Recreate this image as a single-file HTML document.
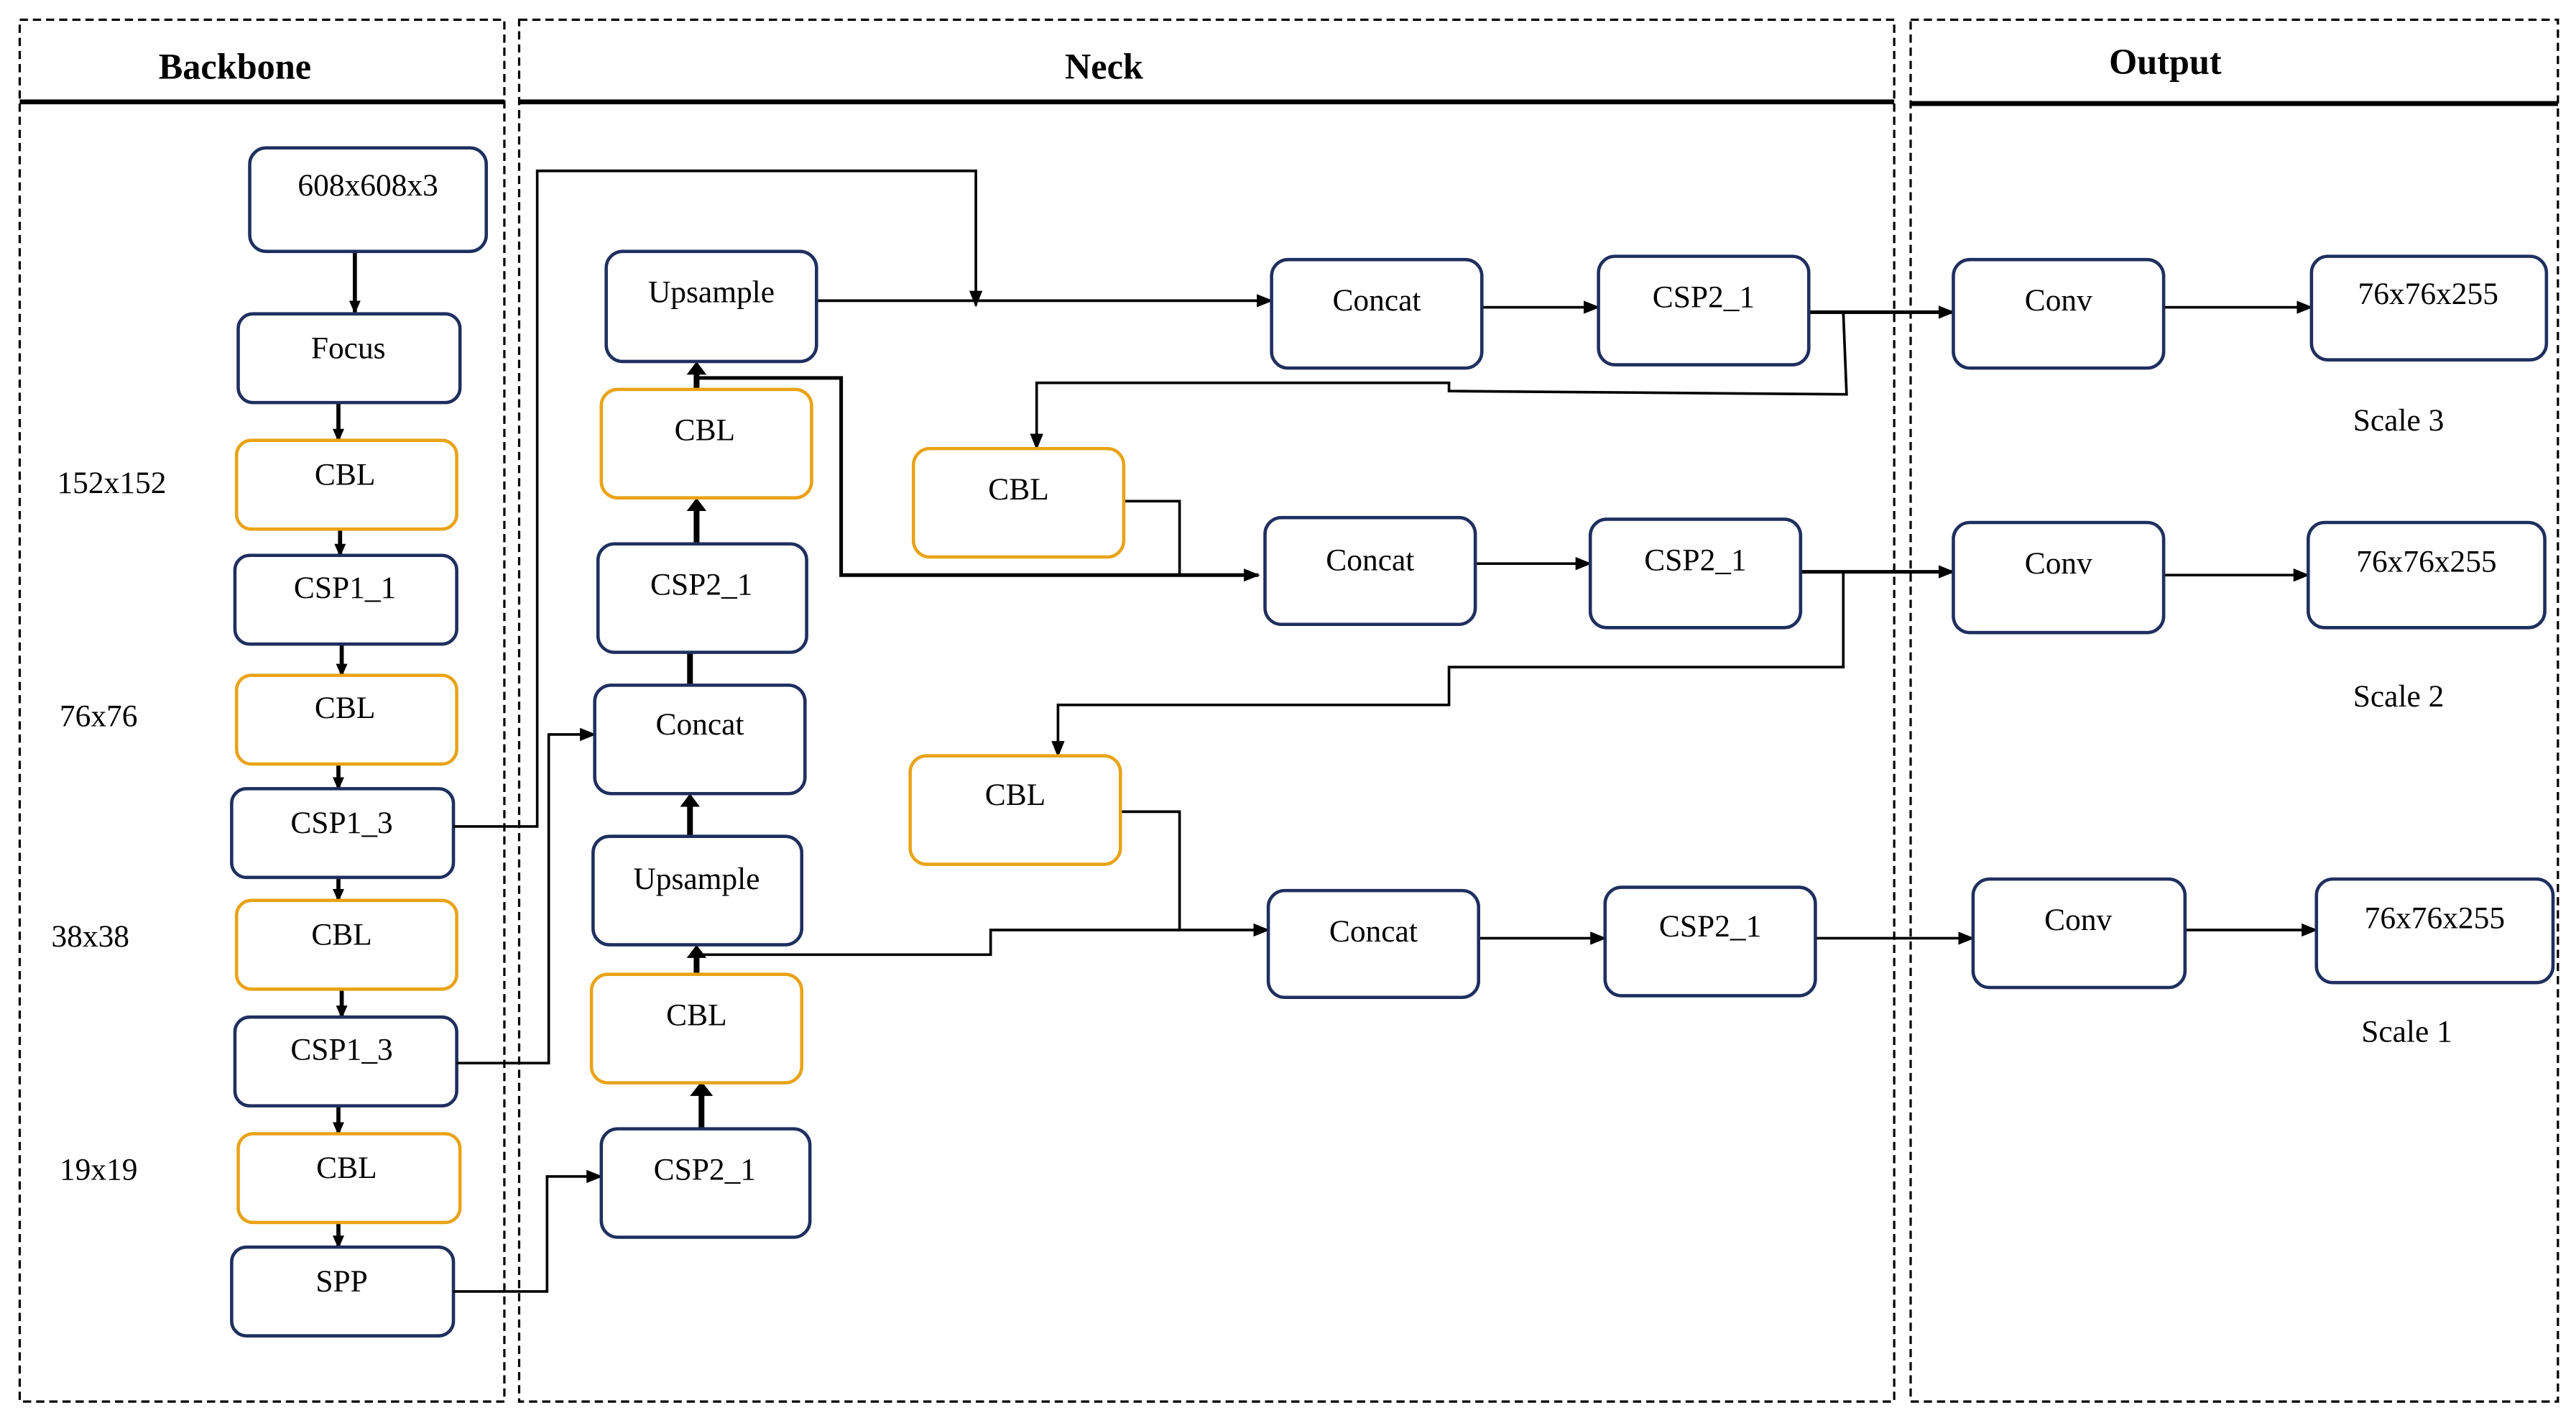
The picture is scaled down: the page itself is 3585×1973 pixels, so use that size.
<!DOCTYPE html>
<html><head><meta charset="utf-8"><style>
html,body{margin:0;padding:0;background:#fff;}
svg{display:block;}
text{font-family:"Liberation Serif",serif;font-size:19px;fill:#000;text-anchor:middle;}
.n{fill:#fff;stroke:#1f2f5e;stroke-width:2;}
.o{fill:#fff;stroke:#e8a317;stroke-width:2;}
.l{fill:none;stroke:#000;stroke-width:1.6;}
.t{fill:none;stroke:#000;stroke-width:3.5;}
.d{fill:none;stroke:#000;stroke-width:1.4;stroke-dasharray:5 3;}
</style></head><body>
<svg width="3585" height="1973" viewBox="0 0 1568 863" preserveAspectRatio="none" xmlns="http://www.w3.org/2000/svg">
<defs>
<marker id="a" markerWidth="10" markerHeight="10" refX="9" refY="5" orient="auto" markerUnits="userSpaceOnUse"><path d="M0,1 L10,5 L0,9 z" fill="#000"/></marker>
<marker id="s" markerWidth="8" markerHeight="8" refX="7" refY="4" orient="auto" markerUnits="userSpaceOnUse"><path d="M0,0.5 L8,4 L0,7.5 z" fill="#000"/></marker>
</defs>
<rect class="d" x="12" y="12" width="295" height="841"/>
<rect class="d" x="316" y="12" width="837" height="841"/>
<rect class="d" x="1163" y="12" width="394" height="841"/>
<line x1="12" y1="62" x2="307" y2="62" stroke="#000" stroke-width="3"/>
<line x1="316" y1="62" x2="1153" y2="62" stroke="#000" stroke-width="3"/>
<line x1="1163" y1="63" x2="1557" y2="63" stroke="#000" stroke-width="3"/>
<text x="143" y="48" style="font-weight:bold;font-size:22px">Backbone</text>
<text x="672" y="48" style="font-weight:bold;font-size:22px">Neck</text>
<text x="1318" y="45" style="font-weight:bold;font-size:22px">Output</text>

<g class="t" style="stroke-width:2.5">
<line x1="216" y1="153" x2="216" y2="190" marker-end="url(#s)"/>
<line x1="206" y1="245" x2="206" y2="268" marker-end="url(#s)"/>
<line x1="207" y1="322" x2="207" y2="338" marker-end="url(#s)"/>
<line x1="208" y1="392" x2="208" y2="411" marker-end="url(#s)"/>
<line x1="206" y1="465" x2="206" y2="480" marker-end="url(#s)"/>
<line x1="206" y1="534" x2="206" y2="548" marker-end="url(#s)"/>
<line x1="208" y1="602" x2="208" y2="619" marker-end="url(#s)"/>
<line x1="206" y1="673" x2="206" y2="690" marker-end="url(#s)"/>
<line x1="206" y1="744" x2="206" y2="759" marker-end="url(#s)"/>
</g>
<rect class="n" x="152" y="90" width="144" height="63" rx="10"/><text x="224" y="119">608x608x3</text>
<rect class="n" x="145" y="191" width="135" height="54" rx="9"/><text x="212" y="218">Focus</text>
<rect class="o" x="144" y="268" width="134" height="54" rx="9"/><text x="210" y="295">CBL</text>
<rect class="n" x="143" y="338" width="135" height="54" rx="9"/><text x="210" y="364">CSP1_1</text>
<rect class="o" x="144" y="411" width="134" height="54" rx="9"/><text x="210" y="437">CBL</text>
<rect class="n" x="141" y="480" width="135" height="54" rx="9"/><text x="208" y="507">CSP1_3</text>
<rect class="o" x="144" y="548" width="134" height="54" rx="9"/><text x="208" y="575">CBL</text>
<rect class="n" x="143" y="619" width="135" height="54" rx="9"/><text x="208" y="645">CSP1_3</text>
<rect class="o" x="145" y="690" width="135" height="54" rx="9"/><text x="211" y="717">CBL</text>
<rect class="n" x="141" y="759" width="135" height="54" rx="9"/><text x="208" y="786">SPP</text>
<text x="68" y="300">152x152</text>
<text x="60" y="442">76x76</text>
<text x="55" y="576">38x38</text>
<text x="60" y="718">19x19</text>

<polyline class="l" points="276,503 327,503 327,104 594,104 594,186" marker-end="url(#a)"/>
<polyline class="l" points="278,647 334,647 334,447 362,447" marker-end="url(#a)"/>
<polyline class="l" points="276,786 333,786 333,716 366,716" marker-end="url(#a)"/>

<g class="t">
<line x1="427" y1="687" x2="427" y2="664"/>
<line x1="424" y1="593" x2="424" y2="578"/>
<line x1="420" y1="509" x2="420" y2="487"/>
<line x1="420" y1="417" x2="420" y2="397"/>
<line x1="424" y1="331" x2="424" y2="307"/>
<line x1="424" y1="237" x2="424" y2="223"/>
</g>
<g fill="#000">
<path d="M420,659 L434,659 L427,668 z" transform="rotate(180 427 663)"/>
<path d="M418,575 L430,575 L424,583 z" transform="rotate(180 424 579)"/>
<path d="M414,483 L426,483 L420,491 z" transform="rotate(180 420 487)"/>
<path d="M418,303 L430,303 L424,311 z" transform="rotate(180 424 307)"/>
<path d="M418,220 L430,220 L424,228 z" transform="rotate(180 424 224)"/>
</g>
<polyline class="l" points="424,581 603,581 603,566 772,566" marker-end="url(#a)"/>
<polyline class="l" points="424,230 512,230 512,350 766,350" marker-end="url(#a)" style="stroke-width:2.2"/>
<polyline class="l" points="684,305 718,305 718,350"/>
<polyline class="l" points="682,494 718,494 718,566"/>
<line class="l" x1="497" y1="183" x2="774" y2="183" marker-end="url(#a)"/>

<polyline class="l" points="1122,190 1124,240 882,238 882,233 631,233 631,273" marker-end="url(#a)"/>
<polyline class="l" points="1122,348 1122,406 882,406 882,429 644,429 644,460" marker-end="url(#a)"/>

<line class="l" x1="902" y1="187" x2="973" y2="187" marker-end="url(#a)"/>
<line class="l" x1="1101" y1="190" x2="1189" y2="190" marker-end="url(#a)" style="stroke-width:2.2"/>
<line class="l" x1="898" y1="343" x2="968" y2="343" marker-end="url(#a)"/>
<line class="l" x1="1096" y1="348" x2="1189" y2="348" marker-end="url(#a)" style="stroke-width:2.2"/>
<line class="l" x1="900" y1="571" x2="977" y2="571" marker-end="url(#a)"/>
<line class="l" x1="1105" y1="571" x2="1201" y2="571" marker-end="url(#a)"/>
<line class="l" x1="1317" y1="187" x2="1407" y2="187" marker-end="url(#a)"/>
<line class="l" x1="1317" y1="350" x2="1405" y2="350" marker-end="url(#a)"/>
<line class="l" x1="1330" y1="566" x2="1410" y2="566" marker-end="url(#a)"/>

<rect class="n" x="369" y="153" width="128" height="67" rx="10"/><text x="433" y="184">Upsample</text>
<rect class="o" x="366" y="237" width="128" height="66" rx="10"/><text x="429" y="268">CBL</text>
<rect class="n" x="364" y="331" width="127" height="66" rx="10"/><text x="427" y="362">CSP2_1</text>
<rect class="n" x="362" y="417" width="128" height="66" rx="10"/><text x="426" y="447">Concat</text>
<rect class="n" x="361" y="509" width="127" height="66" rx="10"/><text x="424" y="541">Upsample</text>
<rect class="o" x="360" y="593" width="128" height="66" rx="10"/><text x="424" y="624">CBL</text>
<rect class="n" x="366" y="687" width="127" height="66" rx="10"/><text x="429" y="718">CSP2_1</text>

<rect class="o" x="556" y="273" width="128" height="66" rx="10"/><text x="620" y="304">CBL</text>
<rect class="o" x="554" y="460" width="128" height="66" rx="10"/><text x="618" y="490">CBL</text>

<rect class="n" x="774" y="158" width="128" height="66" rx="10"/><text x="838" y="189">Concat</text>
<rect class="n" x="973" y="156" width="128" height="66" rx="10"/><text x="1037" y="187">CSP2_1</text>
<rect class="n" x="770" y="315" width="128" height="65" rx="10"/><text x="834" y="347">Concat</text>
<rect class="n" x="968" y="316" width="128" height="66" rx="10"/><text x="1032" y="347">CSP2_1</text>
<rect class="n" x="772" y="542" width="128" height="65" rx="10"/><text x="836" y="573">Concat</text>
<rect class="n" x="977" y="540" width="128" height="66" rx="10"/><text x="1041" y="570">CSP2_1</text>

<rect class="n" x="1189" y="158" width="128" height="66" rx="10"/><text x="1253" y="189">Conv</text>
<rect class="n" x="1407" y="156" width="143" height="63" rx="10"/><text x="1478" y="185">76x76x255</text>
<text x="1460" y="262">Scale 3</text>
<rect class="n" x="1189" y="318" width="128" height="67" rx="10"/><text x="1253" y="349">Conv</text>
<rect class="n" x="1405" y="318" width="144" height="64" rx="10"/><text x="1477" y="348">76x76x255</text>
<text x="1460" y="430">Scale 2</text>
<rect class="n" x="1201" y="535" width="129" height="66" rx="10"/><text x="1265" y="566">Conv</text>
<rect class="n" x="1410" y="535" width="144" height="63" rx="10"/><text x="1482" y="565">76x76x255</text>
<text x="1465" y="634">Scale 1</text>
</svg>
</body></html>
